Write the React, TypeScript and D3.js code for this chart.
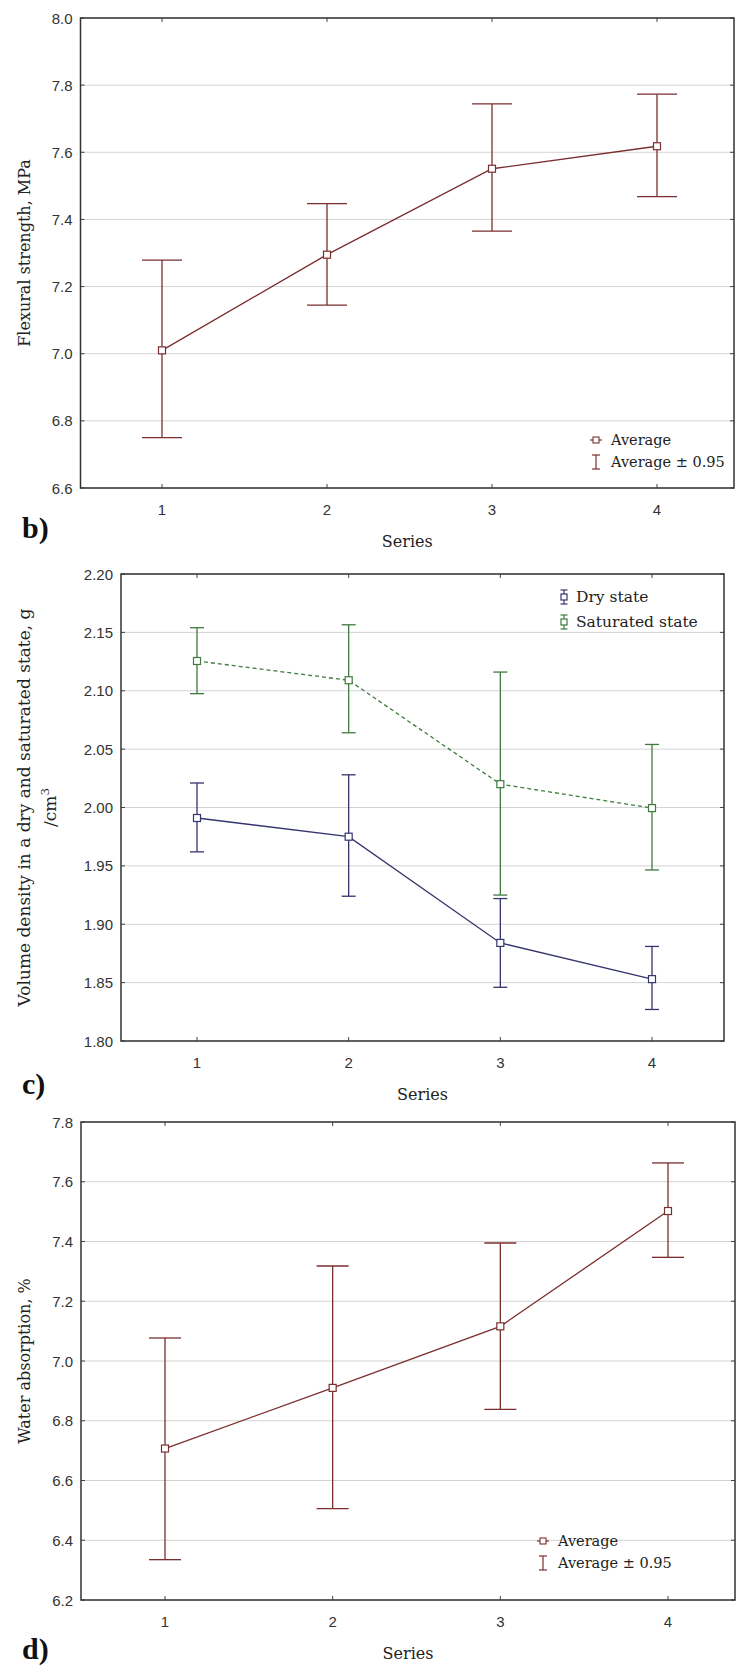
import React from "react";
import * as d3 from "d3";

// ---------- DATA ----------
const seriesCats = [1, 2, 3, 4];

// b) Flexural strength, MPa
const flexMean = [7.01, 7.295, 7.551, 7.618];
const flexLow = [6.75, 7.145, 7.365, 7.468];
const flexHigh = [7.279, 7.447, 7.744, 7.773];
const flexTicks = [6.6, 6.8, 7.0, 7.2, 7.4, 7.6, 7.8, 8.0];

// c) Volume density
const dryMean = [1.991, 1.975, 1.884, 1.853];
const dryLow = [1.962, 1.924, 1.846, 1.827];
const dryHigh = [2.021, 2.028, 1.922, 1.881];
const satMean = [2.1255, 2.109, 2.02, 1.9995];
const satLow = [2.0975, 2.064, 1.925, 1.9465];
const satHigh = [2.154, 2.1565, 2.116, 2.054];
const densTicks = [1.8, 1.85, 1.9, 1.95, 2.0, 2.05, 2.1, 2.15, 2.2];

// d) Water absorption, %
const waterMean = [6.707, 6.91, 7.116, 7.502];
const waterLow = [6.335, 6.506, 6.838, 7.347];
const waterHigh = [7.077, 7.318, 7.395, 7.663];
const waterTicks = [6.2, 6.4, 6.6, 6.8, 7.0, 7.2, 7.4, 7.6, 7.8];

const RED = "#7b2e2e";
const NAVY = "#34346e";
const GREEN = "#3f7a3f";
const TICK_FONT = "'Liberation Sans', Arial, sans-serif";
const SERIF = "'DejaVu Serif', serif";

type Ser = { mean: number[]; low: number[]; high: number[]; color: string; dash?: string; cap: number };

type PanelProps = {
  left: number; right: number; top: number; bottom: number;
  x1: number; x4: number;
  yDomain: [number, number]; ticks: number[]; fmt: string;
  series: Ser[];
  title: string[]; titleX: number[]; titleSize: number;
  letter: string; letterY: number;
  legend: "avg" | "state"; legendX: number; legendY: number;
};

function Panel(p: PanelProps) {
  const x = d3.scaleLinear().domain([1, 4]).range([p.x1, p.x4]);
  const y = d3.scaleLinear().domain(p.yDomain).range([p.bottom, p.top]);
  const f = d3.format(p.fmt);
  const cy = (p.top + p.bottom) / 2;
  const cx = (p.left + p.right) / 2;
  return (
    <g>
      {p.ticks.map((t) => (
        <line key={"g" + t} x1={p.left} x2={p.right} y1={y(t)} y2={y(t)} stroke="#d4d4d4" strokeWidth={1} />
      ))}
      {p.ticks.map((t) => (
        <text key={"t" + t} x={p.left - 8} y={y(t)} textAnchor="end" dominantBaseline="central"
          fontFamily={TICK_FONT} fontSize={15} fill="#333">{f(t)}</text>
      ))}
      {p.ticks.map((t) => (
        <g key={"tk" + t}>
          <line x1={p.left} x2={p.left + 4} y1={y(t)} y2={y(t)} stroke="#444" />
          <line x1={p.right} x2={p.right - 4} y1={y(t)} y2={y(t)} stroke="#444" />
        </g>
      ))}
      {seriesCats.map((c) => (
        <g key={"x" + c}>
          <line x1={x(c)} x2={x(c)} y1={p.bottom} y2={p.bottom - 4} stroke="#444" />
          <line x1={x(c)} x2={x(c)} y1={p.top} y2={p.top + 4} stroke="#444" />
          <text x={x(c)} y={p.bottom + 21} textAnchor="middle" dominantBaseline="central"
            fontFamily={TICK_FONT} fontSize={15} fill="#333">{c}</text>
        </g>
      ))}
      <rect x={p.left} y={p.top} width={p.right - p.left} height={p.bottom - p.top}
        fill="none" stroke="#333" strokeWidth={1.5} />
      {p.series.map((s, si) => {
        const line = d3.line<number>().x((_, i) => x(seriesCats[i])).y((v) => y(v));
        return (
          <g key={"s" + si}>
            <path d={line(s.mean) || ""} fill="none" stroke={s.color} strokeWidth={1.3} strokeDasharray={s.dash} />
            {seriesCats.map((c, i) => (
              <g key={i} stroke={s.color} strokeWidth={1.3}>
                <line x1={x(c)} x2={x(c)} y1={y(s.low[i])} y2={y(s.high[i])} />
                <line x1={x(c) - s.cap} x2={x(c) + s.cap} y1={y(s.low[i])} y2={y(s.low[i])} />
                <line x1={x(c) - s.cap} x2={x(c) + s.cap} y1={y(s.high[i])} y2={y(s.high[i])} />
                <rect x={x(c) - 3.5} y={y(s.mean[i]) - 3.5} width={7} height={7} fill="white" strokeWidth={1.2} />
              </g>
            ))}
          </g>
        );
      })}
      {p.legend === "avg" ? (
        <g>
          <line x1={p.legendX - 6} x2={p.legendX + 6} y1={p.legendY} y2={p.legendY} stroke={RED} strokeWidth={1.2} />
          <rect x={p.legendX - 3} y={p.legendY - 3} width={6} height={6} fill="white" stroke={RED} strokeWidth={1.1} />
          <text x={p.legendX + 15} y={p.legendY} dominantBaseline="central" fontFamily={SERIF} fontSize={14.5} fill="#222">Average</text>
          <g stroke={RED} strokeWidth={1.2}>
            <line x1={p.legendX} x2={p.legendX} y1={p.legendY + 15} y2={p.legendY + 29} />
            <line x1={p.legendX - 4} x2={p.legendX + 4} y1={p.legendY + 15} y2={p.legendY + 15} />
            <line x1={p.legendX - 4} x2={p.legendX + 4} y1={p.legendY + 29} y2={p.legendY + 29} />
          </g>
          <text x={p.legendX + 15} y={p.legendY + 22} dominantBaseline="central" fontFamily={SERIF} fontSize={14.5} fill="#222">Average ± 0.95</text>
        </g>
      ) : (
        <g>
          {[{ c: NAVY, t: "Dry state" }, { c: GREEN, t: "Saturated state" }].map((e, i) => {
            const ly = p.legendY + i * 25;
            return (
              <g key={i}>
                <g stroke={e.c} strokeWidth={1.2}>
                  <line x1={p.legendX} x2={p.legendX} y1={ly - 7} y2={ly + 7} />
                  <line x1={p.legendX - 3.5} x2={p.legendX + 3.5} y1={ly - 7} y2={ly - 7} />
                  <line x1={p.legendX - 3.5} x2={p.legendX + 3.5} y1={ly + 7} y2={ly + 7} />
                  <rect x={p.legendX - 3} y={ly - 3} width={6} height={6} fill="white" />
                </g>
                <text x={p.legendX + 12} y={ly} dominantBaseline="central" fontFamily={SERIF} fontSize={15.5} fill="#222">{e.t}</text>
              </g>
            );
          })}
        </g>
      )}
      {p.title.map((t, i) => (
        <text key={"ti" + i} transform={`translate(${p.titleX[i]},${cy}) rotate(-90)`} textAnchor="middle"
          fontFamily={SERIF} fontSize={p.titleSize} fill="#222">
          {t === "/cm3" ? (<>/cm<tspan dy={-7} fontSize={p.titleSize * 0.7}>3</tspan></>) : t}
        </text>
      ))}
      <text x={cx} y={p.bottom + 53} textAnchor="middle" dominantBaseline="central" fontFamily={SERIF} fontSize={16} fill="#222">Series</text>
      <text x={22} y={p.letterY} dominantBaseline="central" fontFamily="'Liberation Serif', serif" fontWeight="bold" fontSize={30} fill="#111">{p.letter}</text>
    </g>
  );
}

export default function App() {
  return (
    <svg width={736} height={1666} style={{ position: "absolute", left: 0, top: 0, background: "white" }}>
      <rect width={736} height={1666} fill="white" />
      <Panel left={80.5} right={734} top={18} bottom={488} x1={162} x4={657}
        yDomain={[6.6, 8.0]} ticks={flexTicks} fmt=".1f"
        series={[{ mean: flexMean, low: flexLow, high: flexHigh, color: RED, cap: 20 }]}
        title={["Flexural strength, MPa"]} titleX={[30]} titleSize={16}
        letter="b)" letterY={527} legend="avg" legendX={596} legendY={440} />
      <Panel left={121} right={724} top={574} bottom={1041} x1={197} x4={652}
        yDomain={[1.8, 2.2]} ticks={densTicks} fmt=".2f"
        series={[
          { mean: satMean, low: satLow, high: satHigh, color: GREEN, dash: "4,3", cap: 7 },
          { mean: dryMean, low: dryLow, high: dryHigh, color: NAVY, cap: 7 },
        ]}
        title={["Volume density in a dry and saturated state, g", "/cm3"]} titleX={[30, 56]} titleSize={17}
        letter="c)" letterY={1083} legend="state" legendX={564} legendY={597} />
      <Panel left={81} right={735} top={1122} bottom={1600} x1={165} x4={668}
        yDomain={[6.2, 7.8]} ticks={waterTicks} fmt=".1f"
        series={[{ mean: waterMean, low: waterLow, high: waterHigh, color: RED, cap: 16 }]}
        title={["Water absorption, %"]} titleX={[30]} titleSize={16}
        letter="d)" letterY={1648} legend="avg" legendX={543} legendY={1541} />
    </svg>
  );
}
